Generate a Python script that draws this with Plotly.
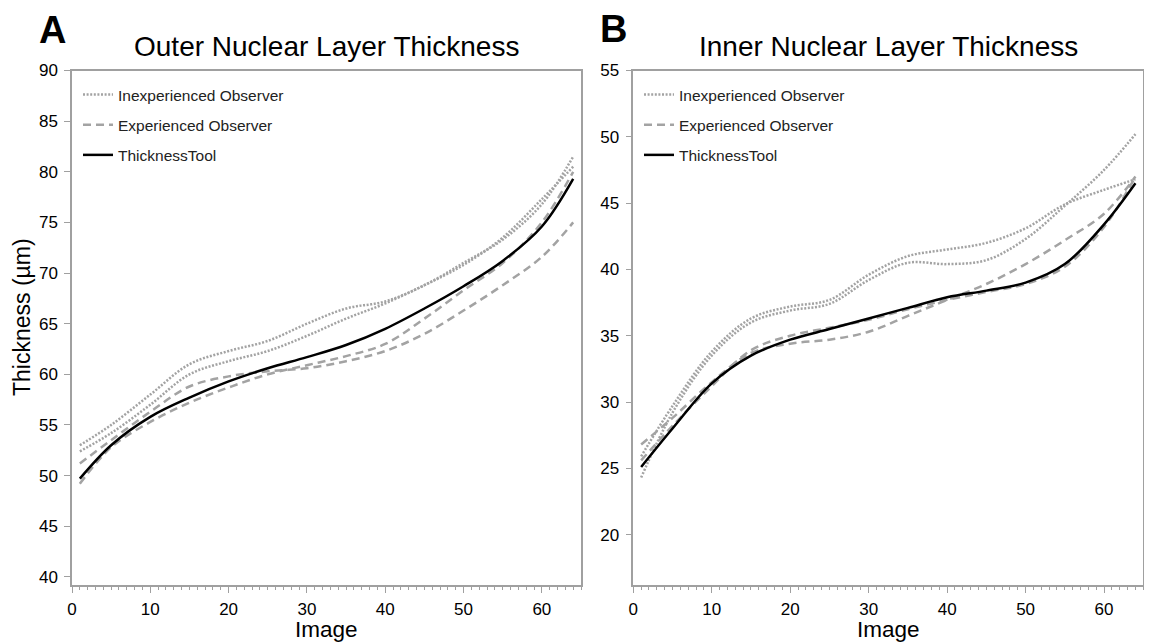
import plotly.graph_objects as go

# ---------------- data ----------------
image_idx = [1, 5, 10, 15, 20, 25, 30, 35, 40, 45, 50, 55, 60, 64]

# Panel A: Outer Nuclear Layer Thickness (µm)
onl_inexp_1 = [53.0, 55.0, 58.0, 61.0, 62.3, 63.3, 65.0, 66.5, 67.2, 68.8, 71.0, 73.3, 76.8, 81.5]
onl_inexp_2 = [52.4, 54.2, 57.0, 60.0, 61.3, 62.3, 63.8, 65.5, 67.0, 68.8, 70.8, 73.5, 77.3, 80.5]
onl_exp_1 = [51.2, 53.5, 56.3, 58.8, 59.8, 60.3, 60.6, 61.3, 62.3, 64.0, 66.3, 68.8, 71.6, 75.0]
onl_exp_2 = [49.2, 52.8, 55.3, 57.2, 58.7, 60.0, 60.9, 61.8, 63.0, 65.5, 68.3, 71.0, 75.0, 80.0]
onl_tool = [49.7, 53.0, 55.8, 57.7, 59.3, 60.6, 61.7, 62.9, 64.5, 66.5, 68.7, 71.2, 74.6, 79.3]

# Panel B: Inner Nuclear Layer Thickness (µm)
inl_inexp_1 = [25.9, 29.7, 33.8, 36.3, 37.2, 37.7, 39.6, 41.0, 41.5, 42.0, 43.1, 44.9, 46.0, 46.8]
inl_inexp_2 = [24.3, 29.2, 33.5, 36.0, 36.9, 37.4, 39.2, 40.5, 40.4, 40.7, 42.3, 44.8, 47.5, 50.2]
inl_exp_1 = [26.8, 28.8, 31.5, 33.7, 34.4, 34.7, 35.3, 36.5, 37.7, 38.9, 40.4, 42.2, 44.2, 47.0]
inl_exp_2 = [25.6, 28.2, 31.2, 33.9, 35.0, 35.6, 36.2, 37.0, 37.7, 38.3, 38.9, 40.2, 43.2, 47.0]
inl_tool = [25.1, 28.0, 31.4, 33.5, 34.7, 35.5, 36.3, 37.1, 37.9, 38.4, 39.0, 40.4, 43.4, 46.5]

series_names = ["Inexperienced Observer", "Experienced Observer", "ThicknessTool"]
panel_titles = ["Outer Nuclear Layer Thickness", "Inner Nuclear Layer Thickness"]
panel_letters = ["A", "B"]
x_ticks = [0, 10, 20, 30, 40, 50, 60]
onl_y_ticks = [40, 45, 50, 55, 60, 65, 70, 75, 80, 85, 90]
inl_y_ticks = [20, 25, 30, 35, 40, 45, 50, 55]

# ---------------- styling ----------------
FONT = "Liberation Sans, Arial, Helvetica, sans-serif"
GREY = "#a3a3a3"
AXIS_GREY = "#a0a0a0"
# the page body has an 8px margin, so the figure is drawn 8px smaller
W, H = 1144, 634

styles = {
    "inexp": dict(color=GREY, width=2.5, dash="2px,1.6px"),
    "exp": dict(color=GREY, width=2.5, dash="8px,5px"),
    "tool": dict(color="black", width=2.5, dash="solid"),
}

fig = go.Figure()

panels = [
    ("x", "y", "legend", [onl_inexp_1, onl_inexp_2], [onl_exp_1, onl_exp_2], onl_tool),
    ("x2", "y2", "legend2", [inl_inexp_1, inl_inexp_2], [inl_exp_1, inl_exp_2], inl_tool),
]

for xa, ya, lg, inexp, exp, tool in panels:
    for i, ys in enumerate(inexp):
        fig.add_trace(go.Scatter(x=image_idx, y=ys, mode="lines", line_shape="spline",
                                 line=styles["inexp"], name=series_names[0],
                                 legendgroup=lg + "inexp", showlegend=(i == 0),
                                 xaxis=xa, yaxis=ya, legend=lg))
    for i, ys in enumerate(exp):
        fig.add_trace(go.Scatter(x=image_idx, y=ys, mode="lines", line_shape="spline",
                                 line=styles["exp"], name=series_names[1],
                                 legendgroup=lg + "exp", showlegend=(i == 0),
                                 xaxis=xa, yaxis=ya, legend=lg))
    fig.add_trace(go.Scatter(x=image_idx, y=tool, mode="lines", line_shape="spline",
                             line=styles["tool"], name=series_names[2],
                             legendgroup=lg + "tool", showlegend=True,
                             xaxis=xa, yaxis=ya, legend=lg))

# plot area positions (paper fractions)
dom_x1 = [64 / W, 573 / W]
dom_x2 = [625.3 / W, 1135.3 / W]
dom_y = [1 - 577 / H, 1 - 62.5 / H]

common_x = dict(range=[0, 65], tickvals=x_ticks, ticks="outside", ticklen=6, tickwidth=1,
                tickcolor=AXIS_GREY, showline=True, linecolor=AXIS_GREY, linewidth=1.5,
                mirror=True, showgrid=False, zeroline=False, automargin=False,
                ticklabelstandoff=2,
                tickfont=dict(family=FONT, size=17, color="black"),
                minor=dict(dtick=1, tick0=0, ticks="outside", ticklen=3, tickcolor=AXIS_GREY,
                           showgrid=False))
common_y = dict(ticks="outside", ticklen=6, tickwidth=1, tickcolor=AXIS_GREY,
                showline=True, linecolor=AXIS_GREY, linewidth=1.5, mirror=True,
                showgrid=False, zeroline=False, automargin=False, ticklabelstandoff=3,
                tickfont=dict(family=FONT, size=17, color="black"))

legend_common = dict(font=dict(family=FONT, size=15.5, color="#222"), bgcolor="rgba(0,0,0,0)",
                     tracegroupgap=7, xanchor="left", yanchor="top", itemclick=False)

fig.update_layout(
    template="none",
    width=W, height=H,
    margin=dict(l=0, r=0, t=0, b=0),
    paper_bgcolor="white", plot_bgcolor="white",
    font=dict(family=FONT, color="black"),
    xaxis=dict(domain=dom_x1, anchor="y", **common_x),
    yaxis=dict(domain=dom_y, anchor="x", range=[39.2, 90], tickvals=onl_y_ticks, **common_y),
    xaxis2=dict(domain=dom_x2, anchor="y2", **common_x),
    yaxis2=dict(domain=dom_y, anchor="x2", range=[16.2, 55], tickvals=inl_y_ticks, **common_y),
    legend=dict(x=70 / W, y=1 - 70 / H, **legend_common),
    legend2=dict(x=631 / W, y=1 - 70 / H, **legend_common),
    showlegend=True,
)

annotations = []
for k, (dx, title, letter) in enumerate(zip([dom_x1, dom_x2], panel_titles, panel_letters)):
    cx = (dx[0] + dx[1]) / 2
    annotations.append(dict(text=title, x=cx, y=1 - 39 / H, xref="paper", yref="paper",
                            xanchor="center", yanchor="middle", showarrow=False,
                            font=dict(family=FONT, size=28, color="black")))
    annotations.append(dict(text="Image", x=cx, y=0, xref="paper", yref="paper",
                            xanchor="center", yanchor="bottom", yshift=-2, showarrow=False,
                            font=dict(family=FONT, size=22.5, color="black")))
    lx, ly = [(44, 22), (605, 20.5)][k]
    annotations.append(dict(text="<b>" + letter + "</b>", x=lx / W, y=1 - ly / H, xref="paper",
                            yref="paper", xanchor="center", yanchor="middle", showarrow=False,
                            font=dict(family=FONT, size=38, color="black")))
annotations.append(dict(text="Thickness (µm)", x=14 / W, y=1 - 309 / H, xref="paper",
                        yref="paper", xanchor="center", yanchor="middle", showarrow=False,
                        textangle=-90, font=dict(family=FONT, size=23, color="black")))
fig.update_layout(annotations=annotations)

fig.write_html("out.html")
